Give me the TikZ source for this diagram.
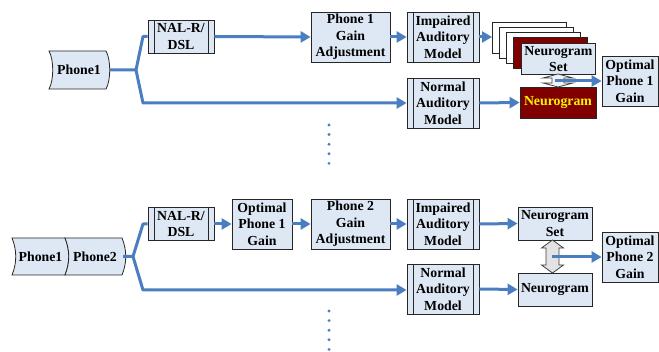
\documentclass[tikz,border=0pt]{standalone}
\usepackage{fontspec}
\setmainfont{Liberation Serif}
\usetikzlibrary{arrows.meta,calc}
\definecolor{boxfill}{RGB}{222,232,245}
\definecolor{lineblue}{RGB}{74,126,193}
\definecolor{darkred}{RGB}{128,0,0}
\begin{document}
\begin{tikzpicture}[x=1pt,y=-1pt,
  txt/.style={font=\bfseries\fontsize{13.8}{16.6}\selectfont, align=center, inner sep=0pt},
  box/.style={txt, draw=black!85, line width=0.8pt, fill=boxfill},
  proc/.style={box, path picture={\draw[black!85,line width=0.8pt]
      ([xshift=6pt]path picture bounding box.north west) -- ([xshift=6pt]path picture bounding box.south west)
      ([xshift=-6pt]path picture bounding box.north east) -- ([xshift=-6pt]path picture bounding box.south east);}},
  tape/.style={draw=black!85, line width=0.8pt, fill=boxfill},
  dbl/.style={draw=black!75, line width=0.8pt, fill=gray!22},
  conn/.style={lineblue, line width=3pt, line join=round},
  arr/.style={conn, -{Triangle[length=10pt,width=11pt]}},
  dots/.style={lineblue, line width=3.2pt, line cap=round, dash pattern=on 0pt off 9.6pt},
]
\useasboundingbox (0,0) rectangle (659,352);

% ---------------- top row ----------------
\draw[tape] (49,51) -- (106,51) .. controls (111,60) and (111,80) .. (106,89)
  -- (49,89) .. controls (54,80) and (54,60) .. (49,51) -- cycle;
\node[txt] (ph1) at (79,70) {Phone1};
\coordinate (tip1) at (110,70);
\coordinate (s1) at (136,70);

\node[proc, minimum width=66pt, minimum height=33pt] (nal1) at (181,36.5) {NAL-R/\\DSL};
\node[box, minimum width=79pt, minimum height=50pt] (gain1) at (350.5,37) {Phone 1\\Gain\\Adjustment};
\node[proc, minimum width=72pt, minimum height=50pt] (imp1) at (443,37) {Impaired\\Auditory\\Model};
\node[proc, minimum width=72pt, minimum height=50pt] (norm1) at (443,103) {Normal\\Auditory\\Model};

\node[box, fill=white, minimum width=74pt, minimum height=31pt, anchor=north west] (pg1) at (492,22) {};
\node[box, fill=white, minimum width=74pt, minimum height=31pt, anchor=north west] (pg2) at (499,27) {};
\node[box, fill=white, minimum width=74pt, minimum height=31pt, anchor=north west] (pg3) at (506,32) {};
\node[box, fill=darkred, minimum width=74pt, minimum height=31pt, anchor=north west] (pg4) at (513,37) {};
\node[box, minimum width=74pt, minimum height=31pt, anchor=north west] (set1) at (521,43) {Neurogram\\Set};
\node[box, fill=darkred, text=yellow, minimum width=76pt, minimum height=31pt] (neu1) at (558,102.5) {Neurogram};
\node[box, minimum width=56pt, minimum height=50pt] (opt1) at (630,81) {Optimal\\Phone 1\\Gain};

\coordinate (b1u) at (143,36.5);
\coordinate (b1d) at (143,103);
\draw[conn] (tip1) -- (s1) -- (b1u) -- (nal1.west);
\draw[arr] (s1) -- (b1d) -- (norm1.west);
\draw[arr] (nal1.east) -- (gain1.west);
\draw[arr] (gain1.east) -- (imp1.west);
\draw[arr] (imp1.east) -- (imp1.east -| pg1.west);
\draw[arr] (norm1.east) -- (neu1.west);

\draw[dbl, fill=gray!10] (558,74) -- (573,78) -- (564,78) -- (564,83) -- (573,83) -- (558,87)
  -- (543,83) -- (552,83) -- (552,78) -- (543,78) -- cycle;
\coordinate (da1) at (555,81);
\draw[arr] (da1) -- (opt1.west);

\coordinate (d1a) at (329,125);
\coordinate (d1b) at (329,164);
\draw[dots] (d1a) -- (d1b);

% ---------------- bottom row ----------------
\draw[tape] (12,238) -- (65,238) .. controls (70,250) and (70,263) .. (65,275)
  -- (12,275) .. controls (17,263) and (17,250) .. (12,238) -- cycle;
\draw[tape] (65,238) -- (122,238) .. controls (127,250) and (127,263) .. (122,275)
  -- (65,275) .. controls (70,263) and (70,250) .. (65,238) -- cycle;
\node[txt] (ph1b) at (40.5,256.5) {Phone1};
\node[txt] (ph2b) at (95,256.5) {Phone2};
\coordinate (tip2) at (123,256.5);
\coordinate (s2) at (133,256.5);

\node[proc, minimum width=66pt, minimum height=33pt] (nal2) at (181,224) {NAL-R/\\DSL};
\node[box, minimum width=60pt, minimum height=50pt] (opt1b) at (262,224) {Optimal\\Phone 1\\Gain};
\node[box, minimum width=79pt, minimum height=50pt] (gain2) at (350.5,224) {Phone 2\\Gain\\Adjustment};
\node[proc, minimum width=72pt, minimum height=50pt] (imp2) at (443,224) {Impaired\\Auditory\\Model};
\node[proc, minimum width=72pt, minimum height=50pt] (norm2) at (443,289) {Normal\\Auditory\\Model};
\node[box, minimum width=74pt, minimum height=33pt] (set2) at (555,223.5) {Neurogram\\Set};
\node[box, minimum width=74pt, minimum height=33pt] (neu2) at (555,289.5) {Neurogram};
\node[box, minimum width=56pt, minimum height=50pt] (opt2) at (630,257) {Optimal\\Phone 2\\Gain};

\coordinate (b2u) at (143,224);
\coordinate (b2d) at (143,290);
\draw[conn] (tip2) -- (s2) -- (b2u) -- (nal2.west);
\draw[arr] (s2) -- (b2d) -- (b2d -| norm2.west);
\draw[arr] (nal2.east) -- (opt1b.west);
\draw[arr] (opt1b.east) -- (gain2.west);
\draw[arr] (gain2.east) -- (imp2.west);
\draw[arr] (imp2.east) -- (set2.west);
\draw[arr] (norm2.east) -- (neu2.west);

\draw[dbl] (552.5,240) -- (563.5,248) -- (559,248) -- (559,265) -- (563.5,265) -- (552.5,273)
  -- (541.5,265) -- (546,265) -- (546,248) -- (541.5,248) -- cycle;
\coordinate (da2) at (552,257);
\draw[arr] (da2) -- (opt2.west);

\coordinate (d2a) at (329,311);
\coordinate (d2b) at (329,350);
\draw[dots] (d2a) -- (d2b);
\end{tikzpicture}
\end{document}
